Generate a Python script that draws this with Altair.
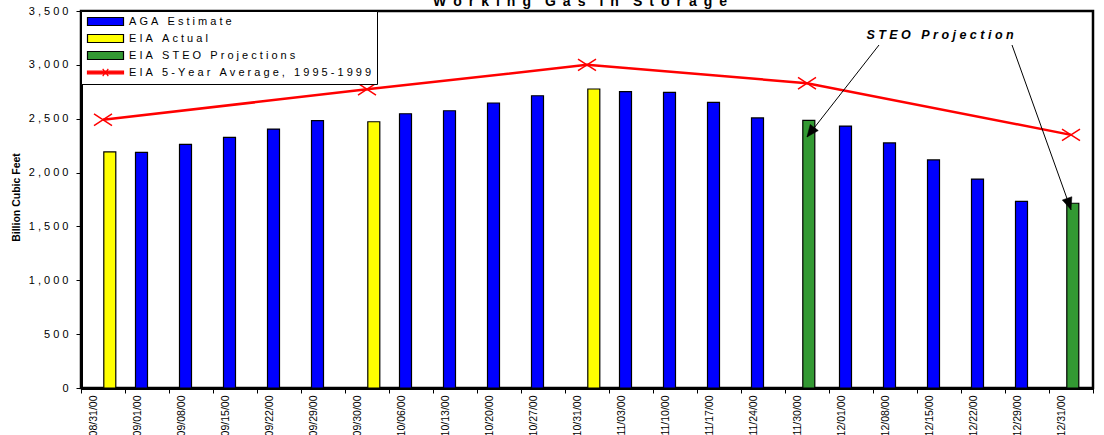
import altair as alt
import pandas as pd

# ---------------- data ----------------
categories = ["08/31/00", "09/01/00", "09/08/00", "09/15/00", "09/22/00", "09/29/00",
              "09/30/00", "10/06/00", "10/13/00", "10/20/00", "10/27/00", "10/31/00",
              "11/03/00", "11/10/00", "11/17/00", "11/24/00", "11/30/00", "12/01/00",
              "12/08/00", "12/15/00", "12/22/00", "12/29/00", "12/31/00"]
bar_series = ["EIA Actual", "AGA Estimate", "AGA Estimate", "AGA Estimate", "AGA Estimate",
              "AGA Estimate", "EIA Actual", "AGA Estimate", "AGA Estimate", "AGA Estimate",
              "AGA Estimate", "EIA Actual", "AGA Estimate", "AGA Estimate", "AGA Estimate",
              "AGA Estimate", "EIA STEO Projections", "AGA Estimate", "AGA Estimate",
              "AGA Estimate", "AGA Estimate", "AGA Estimate", "EIA STEO Projections"]
bar_values = [2192, 2188, 2262, 2327, 2404, 2482, 2472, 2546, 2574, 2646, 2713, 2776,
              2751, 2745, 2652, 2507, 2485, 2432, 2275, 2117, 1940, 1733, 1715]

avg_dates = ["08/31/00", "09/30/00", "10/31/00", "11/30/00", "12/31/00"]
avg_values = [2490, 2773, 3000, 2830, 2350]

series_names = ["AGA Estimate", "EIA Actual", "EIA STEO Projections",
                "EIA 5-Year Average, 1995-1999"]
series_colors = ["#0000FF", "#FFFF00", "#339933", "#FF0000"]

arrow_targets = ["11/30/00", "12/31/00"]
arrow_values = [2330, 1655]

y_ticks = [0, 500, 1000, 1500, 2000, 2500, 3000, 3500]
title_text = "Working Gas in Storage"
note_text = "STEO Projection"
y_title = "Billion Cubic Feet"

# ---------------- styling helpers ----------------
FONT = "Liberation Sans"
NB = "\u00a0"


def spaced(s, sep, word):
    return word.join(sep.join(w) for w in s.split(" "))


SPACE_EXPR = "replace(datum.label, regexp('(.)(?=.)', 'g'), '$1" + NB + "')"

RECT_PATH = "M-4.5,-1H4.5V1H-4.5Z"
RED_PATH = "M-4.5,-0.32H4.5V0.32H-4.5ZM-0.7,-0.9L0.7,0.9M-0.7,0.9L0.7,-0.9"
X_PATH = "M-1,-0.65L1,0.65M-1,0.65L1,-0.65"
ARROW_PATH = "M0,0L-0.42,1L0.42,1Z"
AVG = series_names[3]

bars_df = pd.DataFrame({"date": categories, "series": bar_series, "value": bar_values})
avg_df = pd.DataFrame({"date": avg_dates, "value": avg_values})

x_scale = alt.Scale(domain=categories, paddingInner=0, paddingOuter=0)
y_scale = alt.Scale(domain=[0, 3500], nice=False)

x_enc = alt.X(
    "date:N", scale=x_scale, sort=None, title=None,
    axis=alt.Axis(labelAngle=270, labelFont=FONT, labelFontSize=10.5, labelColor="black",
                  tickBand="extent", tickSize=5, tickColor="black", tickWidth=1,
                  domainColor="black", domainWidth=3, labelPadding=2, labelOffset=-10,
                  labelOverlap=False, grid=False),
)
y_enc = alt.Y(
    "value:Q", scale=y_scale,
    axis=alt.Axis(values=y_ticks, format=",d", labelExpr=SPACE_EXPR, labelFont=FONT,
                  labelFontSize=11, labelColor="black", tickSize=5, tickColor="black",
                  domainColor="black", domainWidth=3, labelPadding=8, grid=False,
                  title=y_title, titleFont=FONT, titleFontSize=10.5, titleFontWeight="bold",
                  titleColor="black", titleAngle=270, titleX=-65, titleY=186,
                  titleBaseline="middle"),
)

legend = alt.Legend(
    orient="none", legendX=0, legendY=0, title=None, direction="vertical",
    strokeColor="black", fillColor="white", padding=5, cornerRadius=0,
    symbolType=alt.ExprRef(expr=f"datum.value === '{AVG}' ? '{RED_PATH}' : '{RECT_PATH}'"),
    symbolStrokeColor=alt.ExprRef(expr=f"datum.value === '{AVG}' ? '#FF0000' : 'black'"),
    symbolSize=64, symbolStrokeWidth=1.2,
    symbolOffset=14, labelOffset=18, labelFont=FONT, labelFontSize=11, labelColor="black",
    labelExpr=SPACE_EXPR, labelLimit=400, rowPadding=4,
)
color_enc = alt.Color("series:N", scale=alt.Scale(domain=series_names, range=series_colors),
                      legend=legend)

base = alt.Chart(bars_df)
bar_offsets = {"AGA Estimate": -5.5, "EIA Actual": 6.8, "EIA STEO Projections": 1.8}
bar_layers = []
for name, off in bar_offsets.items():
    bar_layers.append(
        base.transform_filter(alt.datum.series == name)
        .mark_bar(width=12, xOffset=off, stroke="black", strokeWidth=1.2)
        .encode(x=x_enc, y=y_enc, color=color_enc)
    )

line = alt.Chart(avg_df).mark_line(color="#FF0000", strokeWidth=2.5).encode(x=x_enc, y=y_enc)
marks = alt.Chart(avg_df).mark_point(shape=X_PATH, size=324, filled=False, stroke="#FF0000",
                                     strokeWidth=1.5, opacity=1).encode(x=x_enc, y=y_enc)

title_df = pd.DataFrame({"t": [spaced(title_text, "\u2002", "\u2002\u2002")]})
title = alt.Chart(title_df).mark_text(font=FONT, fontSize=14, fontWeight="bold", color="black",
                                      align="center", baseline="alphabetic").encode(
    text="t:N", x=alt.value(499), y=alt.value(-5))

note_df = pd.DataFrame({"t": [spaced(note_text, NB, NB * 3)]})
note = alt.Chart(note_df).mark_text(font=FONT, fontSize=12.5, fontWeight="bold",
                                    fontStyle="italic", color="black", align="center",
                                    baseline="middle").encode(
    text="t:N", x=alt.value(859), y=alt.value(24))

arrow_starts = [(798, 34), (931, 34)]
arrow_angles = [217.3, 161.0]
arrow_layers = []
for tgt, val, (sx, sy), ang in zip(arrow_targets, arrow_values, arrow_starts, arrow_angles):
    adf = pd.DataFrame({"date": [tgt], "value": [val]})
    arrow_layers.append(
        alt.Chart(adf).mark_rule(color="black", strokeWidth=1).encode(
            x=x_enc, y=y_enc, x2=alt.value(sx), y2=alt.value(sy)))
    arrow_layers.append(
        alt.Chart(adf).mark_point(shape=ARROW_PATH, size=576, filled=True, fill="black",
                                  stroke="black", strokeWidth=0.5, opacity=1, angle=ang)
        .encode(x=x_enc, y=y_enc))

chart = alt.layer(*bar_layers, line, marks, *arrow_layers, note, title).properties(
    width=1012, height=377,
    autosize=alt.AutoSizeParams(type="none"),
    padding={"left": 81, "top": 11, "right": 11, "bottom": 60},
    background="white",
).configure_view(stroke="black", strokeWidth=2.5)

chart.save("out.html", embed_options={"renderer": "svg", "actions": False})
